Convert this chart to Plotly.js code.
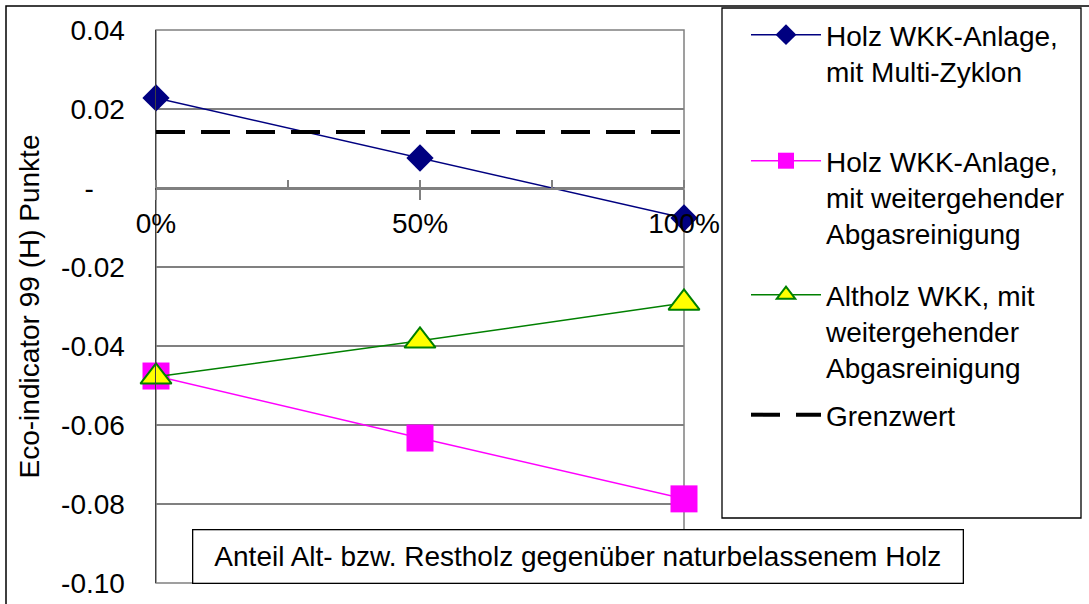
<!DOCTYPE html>
<html>
<head>
<meta charset="utf-8">
<script src="https://cdn.plot.ly/plotly-3.0.1.min.js"></script>
<style>html,body{margin:0;padding:0;background:#fff;}#chart{width:1089px;height:604px;}</style>
</head>
<body>
<div id="chart"></div>
<script>
// ---- data ----
const categories = ["0%", "50%", "100%"];
const shares = [0, 50, 100];
const multiZyklon = [0.0228, 0.0076, -0.0076];
const holzAbgas = [-0.0476, -0.0633, -0.0787];
const altholzAbgas = [-0.0478, -0.0387, -0.0291];
const grenzwert = [0.0142, 0.0142, 0.0142];
const seriesNames = [
  "Holz WKK-Anlage,<br>mit Multi-Zyklon",
  "Holz WKK-Anlage,<br>mit weitergehender<br>Abgasreinigung",
  "Altholz WKK, mit<br>weitergehender<br>Abgasreinigung",
  "Grenzwert"
];
const yTickVals = [-0.10, -0.08, -0.06, -0.04, -0.02, 0, 0.02, 0.04];
const yTickText = ["-0.10", "-0.08", "-0.06", "-0.04", "-0.02", "-\u00a0\u00a0\u00a0\u00a0", "0.02", "0.04"];
const yTitle = "Eco-indicator 99 (H) Punkte";
const xTitle = "Anteil Alt- bzw. Restholz gegenüber naturbelassenem Holz";

// ---- layout helpers ----
const W = 1089, H = 604, ML = 156, MR = 405, MT = 30, MB = 21;
const PW = W - ML - MR, PH = H - MT - MB;
const pxX = p => (p - ML) / PW;
const pxY = p => (H - MB - p) / PH;
const FONT = "Liberation Sans, Arial, sans-serif";
const FS = 28;
const yMin = -0.10, yMax = 0.04;

const traces = [
  {x: shares, y: multiZyklon, name: seriesNames[0], mode: "lines+markers", legend: "legend",
   line: {color: "#000080", width: 1.5},
   marker: {symbol: "diamond", size: 21, color: "#000080"}, cliponaxis: false},
  {x: shares, y: holzAbgas, name: seriesNames[1], mode: "lines+markers", legend: "legend2",
   line: {color: "#FF00FF", width: 1.5},
   marker: {symbol: "square", size: 27, color: "#FF00FF"}, cliponaxis: false},
  {x: shares, y: altholzAbgas, name: seriesNames[2], mode: "lines+markers", legend: "legend3",
   line: {color: "#008000", width: 1.5},
   marker: {symbol: "triangle-up", size: 27, color: "#FFFF00", line: {color: "#008000", width: 2}}, cliponaxis: false},
  {x: shares, y: grenzwert, name: seriesNames[3], mode: "lines", legend: "legend4",
   line: {color: "#000000", width: 4, dash: "29px,16px"}, cliponaxis: false}
];

function leg(xpx, ypx) {
  return {xref: "container", yref: "container", x: xpx / W, y: 1 - ypx / H,
    xanchor: "left", yanchor: "top", bgcolor: "rgba(0,0,0,0)", borderwidth: 0,
    valign: "top", itemwidth: 70, font: {family: FONT, size: FS, color: "#000"}};
}

const layout = {
  width: W, height: H,
  margin: {l: ML, r: MR, t: MT, b: MB, pad: 0},
  paper_bgcolor: "#fff", plot_bgcolor: "#fff",
  font: {family: FONT, size: FS, color: "#000"},
  showlegend: true,
  legend: leg(746, 10),
  legend2: leg(746, 136),
  legend3: leg(746, 270),
  legend4: leg(746, 390),
  xaxis: {
    type: "linear", range: [0, 100], anchor: "free",
    position: (0 - yMin) / (yMax - yMin),
    tickvals: shares, ticktext: categories,
    showgrid: false, zeroline: false,
    showline: true, linecolor: "#808080", linewidth: 1.5,
    ticks: "outside", ticklen: 10, tickwidth: 1.5, tickcolor: "#808080",
    minor: {ticks: "inside", ticklen: 8, tickwidth: 1.5, tickcolor: "#808080", tickmode: "linear", tick0: 0, dtick: 25, showgrid: false},
    tickfont: {family: FONT, size: FS, color: "#000"},
    ticklabelstandoff: 0
  },
  yaxis: {
    range: [yMin, yMax], tickvals: yTickVals, ticktext: yTickText,
    showgrid: true, gridcolor: "#808080", gridwidth: 1.5,
    zeroline: false, showline: true, linecolor: "#404040", linewidth: 1.5,
    ticks: "", tickfont: {family: FONT, size: FS, color: "#000"},
    ticklabelstandoff: 24,
    title: {text: yTitle, font: {family: FONT, size: FS, color: "#000"}, standoff: 13}
  },
  shapes: [
    {type: "rect", xref: "paper", yref: "paper", x0: 0, x1: 1, y0: 0, y1: 1,
     line: {color: "#808080", width: 1.5}, layer: "below"},
    {type: "rect", xref: "paper", yref: "paper", x0: pxX(6), x1: pxX(1095), y0: pxY(610), y1: pxY(6),
     line: {color: "#000", width: 1.5}},
    {type: "rect", xref: "paper", yref: "paper", x0: pxX(722), x1: pxX(1081), y0: pxY(518), y1: pxY(8),
     line: {color: "#000", width: 1.3}}
  ],
  annotations: [
    {text: xTitle, xref: "paper", yref: "paper", x: pxX(577.5), y: pxY(556),
     xanchor: "center", yanchor: "middle", showarrow: false,
     width: 767, height: 50, borderpad: 1, borderwidth: 1.3, bordercolor: "#000", bgcolor: "#fff",
     font: {family: FONT, size: FS, color: "#000"}}
  ]
};

Plotly.newPlot("chart", traces, layout, {displayModeBar: false, staticPlot: true});
</script>
</body>
</html>
